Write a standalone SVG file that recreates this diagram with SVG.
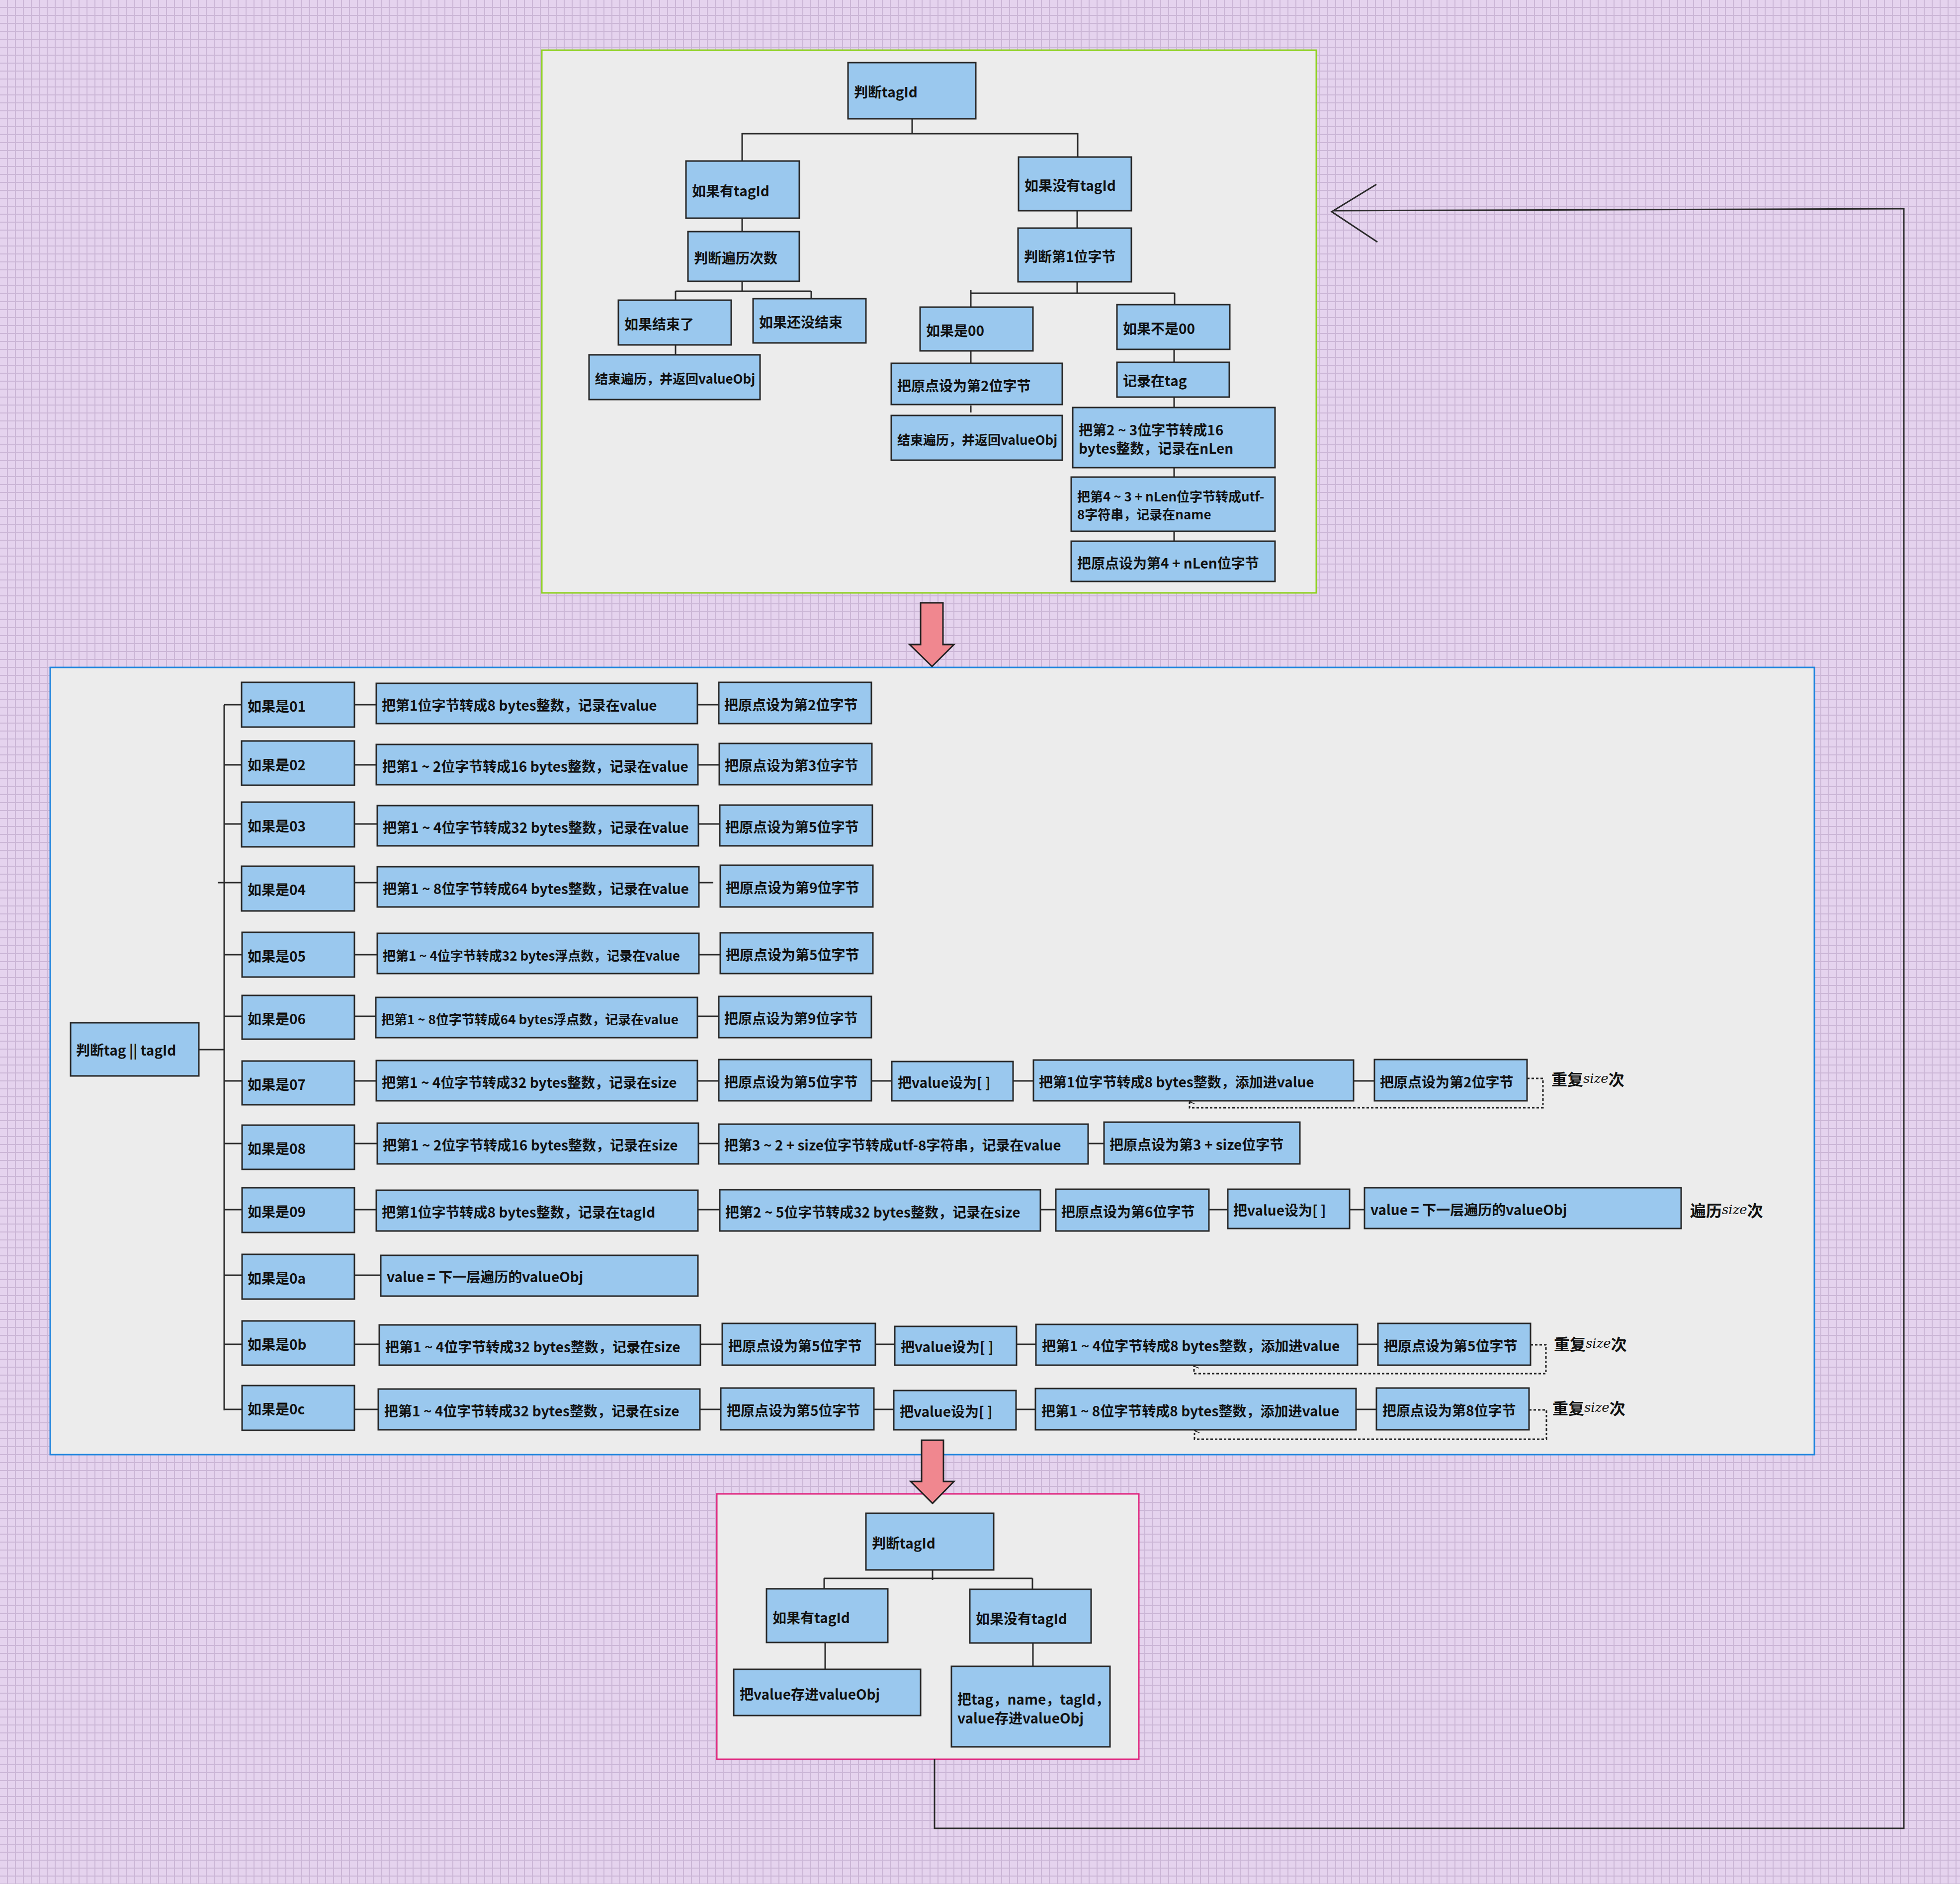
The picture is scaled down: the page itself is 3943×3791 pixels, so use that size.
<svg xmlns="http://www.w3.org/2000/svg" width="3943" height="3791" viewBox="0 0 3943 3791">
<defs>
<pattern id="grid" patternUnits="userSpaceOnUse" x="14" y="14" width="16" height="16">
<rect x="0" y="0" width="16" height="16" fill="#e5d3ee"/>
<rect x="0" y="0" width="2" height="16" fill="#cbb6d6"/>
<rect x="0" y="0" width="16" height="2" fill="#cbb6d6"/>
</pattern>
<marker id="up" viewBox="0 0 12 12" refX="6" refY="1" markerWidth="12" markerHeight="12" markerUnits="userSpaceOnUse" orient="auto-start-reverse">
<path d="M2 11 L6 1 L10 11" fill="none" stroke="#222" stroke-width="1.6"/>
</marker>
</defs>
<style>
.n{fill:#9ac8ee;stroke:#272727;stroke-width:3}
.t{font-family:"Noto Sans CJK SC","Liberation Sans",sans-serif;font-weight:bold;font-size:28px;fill:#111;dominant-baseline:central}
.s{font-size:26px}
.c{stroke:#2a2a2a;stroke-width:3;fill:none}
.d{stroke:#222;stroke-width:3;fill:none;stroke-dasharray:5 4}
.box{fill:#ececec;stroke-width:3}
.big{fill:#f0878f;stroke:#222;stroke-width:3}
.lab{font-family:"Noto Sans CJK SC","Liberation Sans",sans-serif;font-weight:bold;font-size:32px;fill:#111;dominant-baseline:central}
.sz{font-family:"DejaVu Serif",serif;font-style:italic;font-weight:normal;font-size:26px}
</style>
<rect width="3943" height="3791" fill="url(#grid)"/>

<g id="containers">
<rect class="box" x="1090" y="101" width="1558" height="1092" stroke="#8ed11f"/>
<rect class="box" x="101" y="1343" width="3549" height="1584" stroke="#2185de"/>
<rect class="box" x="1442" y="3006" width="849" height="534" stroke="#e0267f"/>
</g>

<g id="connectors">
<path class="c" d="M1835 239 V268 M1493 269 H2168 M1493 268 V324 M2168 268 V316 M1493 439 V466 M1493 566 V586 M1359 586 H1632 M1359 586 V604 M1632 586 V601 M1359 694 V714 M2167 424 V459 M2167 567 V590 M1953 590 H2363 M1953 584 V618 M2363 590 V613 M1953 706 V731 M1953 816 V830 M2362 703 V729 M2362 799 V820 M2362 941 V960 M2362 1069 V1089"/>
<path class="c" d="M400 2112 H451 M451 1419 V2838 M438 1776 H451
M451 1418 H486 M713 1418 H757 M1403 1418 H1446
M451 1539 H486 M713 1539 H757 M1404 1539 H1447
M451 1658 H486 M713 1658 H759 M1405 1658 H1448
M451 1776 H486 M713 1776 H759 M1406 1776 H1435
M451 1921 H486 M713 1921 H759 M1406 1921 H1449
M451 2045 H486 M713 2045 H756 M1403 2045 H1446
M451 2175 H486 M713 2175 H757 M1403 2175 H1446 M1753 2175 H1794 M2038 2175 H2079 M2723 2175 H2765
M451 2301 H486 M713 2301 H759 M1405 2301 H1446 M2189 2301 H2221
M451 2434 H486 M713 2434 H757 M1404 2434 H1448 M2093 2434 H2124 M2432 2434 H2470 M2715 2434 H2745
M451 2566 H486 M713 2566 H766
M451 2705 H486 M713 2705 H763 M1409 2705 H1453 M1761 2705 H1800 M2045 2705 H2084 M2731 2705 H2772
M451 2836 H486 M713 2836 H761 M1408 2836 H1450 M1758 2836 H1798 M2044 2836 H2083 M2728 2836 H2769"/>
<path class="d" d="M3072 2170 H3104 V2229 H2393 V2217" marker-end="url(#up)"/>
<path class="d" d="M3079 2706 H3110 V2764 H2402 V2749" marker-end="url(#up)"/>
<path class="d" d="M3076 2837 H3111 V2896 H2403 V2879" marker-end="url(#up)"/>
<path class="c" d="M1876 3159 V3179 M1658 3176 H2077 M1658 3176 V3197 M2077 3176 V3198 M1660 3305 V3359 M2078 3306 V3353"/>
<path class="c" d="M1880 3540 V3679 H3830 V420 L2681 424 M2769 371 L2679 426 L2771 487"/>
<polygon class="big" points="1852,1213 1897,1213 1897,1297 1919,1297 1875,1341 1830,1297 1852,1297"/>
<polygon class="big" points="1854,2898 1898,2898 1898,2981 1919,2981 1876,3025 1832,2981 1854,2981"/>
</g>

<g id="top-nodes">
<g id="t1"><rect class="n" x="1706" y="126" width="257" height="113"/><text class="t" x="1718" y="184">判断tagId</text></g>
<g id="t2"><rect class="n" x="1380" y="324" width="228" height="115"/><text class="t" x="1392" y="383">如果有tagId</text></g>
<g id="t3"><rect class="n" x="2049" y="316" width="227" height="108"/><text class="t" x="2061" y="372">如果没有tagId</text></g>
<g id="t4"><rect class="n" x="1384" y="466" width="224" height="100"/><text class="t" x="1396" y="518">判断遍历次数</text></g>
<g id="t5"><rect class="n" x="2048" y="459" width="228" height="108"/><text class="t" x="2060" y="515">判断第1位字节</text></g>
<g id="t6"><rect class="n" x="1244" y="604" width="227" height="90"/><text class="t" x="1256" y="651">如果结束了</text></g>
<g id="t7"><rect class="n" x="1515" y="601" width="227" height="89"/><text class="t" x="1527" y="647">如果还没结束</text></g>
<g id="t8"><rect class="n" x="1185" y="714" width="344" height="90"/><text class="t s" x="1197" y="760">结束遍历，并返回valueObj</text></g>
<g id="t9"><rect class="n" x="1851" y="618" width="227" height="88"/><text class="t" x="1863" y="664">如果是00</text></g>
<g id="t10"><rect class="n" x="2247" y="613" width="227" height="90"/><text class="t" x="2259" y="660">如果不是00</text></g>
<g id="t11"><rect class="n" x="1793" y="731" width="344" height="83"/><text class="t" x="1805" y="775">把原点设为第2位字节</text></g>
<g id="t12"><rect class="n" x="1793" y="836" width="344" height="90"/><text class="t s" x="1805" y="883">结束遍历，并返回valueObj</text></g>
<g id="t13"><rect class="n" x="2247" y="729" width="226" height="70"/><text class="t" x="2259" y="765">记录在tag</text></g>
<g id="t14"><rect class="n" x="2158" y="820" width="407" height="121"/><text class="t" x="2170" y="864">把第2 ~ 3位字节转成16</text><text class="t" x="2170" y="901">bytes整数，记录在nLen</text></g>
<g id="t15"><rect class="n" x="2155" y="960" width="410" height="109"/><text class="t s" x="2167" y="997">把第4 ~ 3 + nLen位字节转成utf-</text><text class="t s" x="2167" y="1033">8字符串，记录在name</text></g>
<g id="t16"><rect class="n" x="2155" y="1089" width="410" height="81"/><text class="t" x="2167" y="1132">把原点设为第4 + nLen位字节</text></g>
</g>

<g id="mid-nodes">
<g id="m0"><rect class="n" x="142" y="2058" width="258" height="107"/><text class="t" x="153" y="2112">判断tag || tagId</text></g>

<g id="r01">
<rect class="n" x="486" y="1373" width="227" height="90"/><text class="t" x="498" y="1420">如果是01</text>
<rect class="n" x="757" y="1375" width="646" height="81"/><text class="t" x="768" y="1418">把第1位字节转成8 bytes整数，记录在value</text>
<rect class="n" x="1446" y="1373" width="307" height="83"/><text class="t" x="1457" y="1417">把原点设为第2位字节</text>
</g>
<g id="r02">
<rect class="n" x="486" y="1491" width="227" height="89"/><text class="t" x="498" y="1538">如果是02</text>
<rect class="n" x="757" y="1498" width="647" height="81"/><text class="t" x="769" y="1541">把第1 ~ 2位字节转成16 bytes整数，记录在value</text>
<rect class="n" x="1447" y="1496" width="307" height="83"/><text class="t" x="1458" y="1539">把原点设为第3位字节</text>
</g>
<g id="r03">
<rect class="n" x="486" y="1614" width="227" height="90"/><text class="t" x="498" y="1661">如果是03</text>
<rect class="n" x="759" y="1621" width="646" height="81"/><text class="t" x="770" y="1664">把第1 ~ 4位字节转成32 bytes整数，记录在value</text>
<rect class="n" x="1448" y="1620" width="307" height="82"/><text class="t" x="1459" y="1663">把原点设为第5位字节</text>
</g>
<g id="r04">
<rect class="n" x="486" y="1743" width="227" height="90"/><text class="t" x="498" y="1789">如果是04</text>
<rect class="n" x="759" y="1744" width="647" height="81"/><text class="t" x="770" y="1787">把第1 ~ 8位字节转成64 bytes整数，记录在value</text>
<rect class="n" x="1449" y="1741" width="307" height="84"/><text class="t" x="1460" y="1785">把原点设为第9位字节</text>
</g>
<g id="r05">
<rect class="n" x="487" y="1876" width="226" height="90"/><text class="t" x="498" y="1923">如果是05</text>
<rect class="n" x="759" y="1878" width="647" height="81"/><text class="t s" x="770" y="1921">把第1 ~ 4位字节转成32 bytes浮点数，记录在value</text>
<rect class="n" x="1449" y="1877" width="307" height="82"/><text class="t" x="1460" y="1920">把原点设为第5位字节</text>
</g>
<g id="r06">
<rect class="n" x="487" y="2003" width="226" height="88"/><text class="t" x="498" y="2049">如果是06</text>
<rect class="n" x="756" y="2007" width="647" height="81"/><text class="t s" x="767" y="2049">把第1 ~ 8位字节转成64 bytes浮点数，记录在value</text>
<rect class="n" x="1446" y="2005" width="307" height="83"/><text class="t" x="1457" y="2048">把原点设为第9位字节</text>
</g>
<g id="r07">
<rect class="n" x="487" y="2135" width="226" height="88"/><text class="t" x="498" y="2181">如果是07</text>
<rect class="n" x="757" y="2134" width="646" height="81"/><text class="t" x="768" y="2177">把第1 ~ 4位字节转成32 bytes整数，记录在size</text>
<rect class="n" x="1446" y="2132" width="307" height="83"/><text class="t" x="1457" y="2176">把原点设为第5位字节</text>
<rect class="n" x="1794" y="2136" width="244" height="79"/><text class="t" x="1806" y="2177">把value设为[ ]</text>
<rect class="n" x="2079" y="2133" width="644" height="82"/><text class="t" x="2090" y="2176">把第1位字节转成8 bytes整数，添加进value</text>
<rect class="n" x="2765" y="2132" width="307" height="83"/><text class="t" x="2776" y="2176">把原点设为第2位字节</text>
</g>
<g id="r08">
<rect class="n" x="487" y="2264" width="226" height="89"/><text class="t" x="498" y="2310">如果是08</text>
<rect class="n" x="759" y="2260" width="646" height="82"/><text class="t" x="770" y="2303">把第1 ~ 2位字节转成16 bytes整数，记录在size</text>
<rect class="n" x="1446" y="2262" width="743" height="80"/><text class="t" x="1457" y="2303">把第3 ~ 2 + size位字节转成utf-8字符串，记录在value</text>
<rect class="n" x="2221" y="2258" width="394" height="84"/><text class="t" x="2232" y="2302">把原点设为第3 + size位字节</text>
</g>
<g id="r09">
<rect class="n" x="487" y="2390" width="226" height="90"/><text class="t" x="498" y="2437">如果是09</text>
<rect class="n" x="757" y="2395" width="647" height="82"/><text class="t" x="768" y="2438">把第1位字节转成8 bytes整数，记录在tagId</text>
<rect class="n" x="1448" y="2394" width="645" height="83"/><text class="t" x="1459" y="2438">把第2 ~ 5位字节转成32 bytes整数，记录在size</text>
<rect class="n" x="2124" y="2393" width="308" height="84"/><text class="t" x="2135" y="2437">把原点设为第6位字节</text>
<rect class="n" x="2470" y="2393" width="245" height="79"/><text class="t" x="2481" y="2434">把value设为[ ]</text>
<rect class="n" x="2745" y="2390" width="637" height="82"/><text class="t" x="2757" y="2433">value = 下一层遍历的valueObj</text>
</g>
<g id="r0a">
<rect class="n" x="487" y="2524" width="226" height="90"/><text class="t" x="498" y="2571">如果是0a</text>
<rect class="n" x="766" y="2526" width="638" height="82"/><text class="t" x="778" y="2568">value = 下一层遍历的valueObj</text>
</g>
<g id="r0b">
<rect class="n" x="487" y="2658" width="226" height="89"/><text class="t" x="498" y="2704">如果是0b</text>
<rect class="n" x="763" y="2666" width="646" height="81"/><text class="t" x="775" y="2709">把第1 ~ 4位字节转成32 bytes整数，记录在size</text>
<rect class="n" x="1453" y="2663" width="308" height="84"/><text class="t" x="1465" y="2707">把原点设为第5位字节</text>
<rect class="n" x="1800" y="2669" width="245" height="78"/><text class="t" x="1812" y="2709">把value设为[ ]</text>
<rect class="n" x="2084" y="2665" width="647" height="82"/><text class="t" x="2096" y="2707">把第1 ~ 4位字节转成8 bytes整数，添加进value</text>
<rect class="n" x="2772" y="2663" width="307" height="84"/><text class="t" x="2784" y="2707">把原点设为第5位字节</text>
</g>
<g id="r0c">
<rect class="n" x="487" y="2788" width="226" height="90"/><text class="t" x="498" y="2834">如果是0c</text>
<rect class="n" x="761" y="2795" width="647" height="82"/><text class="t" x="773" y="2838">把第1 ~ 4位字节转成32 bytes整数，记录在size</text>
<rect class="n" x="1450" y="2793" width="308" height="84"/><text class="t" x="1462" y="2837">把原点设为第5位字节</text>
<rect class="n" x="1798" y="2798" width="246" height="79"/><text class="t" x="1810" y="2839">把value设为[ ]</text>
<rect class="n" x="2083" y="2794" width="645" height="83"/><text class="t" x="2095" y="2838">把第1 ~ 8位字节转成8 bytes整数，添加进value</text>
<rect class="n" x="2769" y="2793" width="307" height="84"/><text class="t" x="2781" y="2837">把原点设为第8位字节</text>
</g>
<g id="labels">
<text class="lab" x="3121" y="2170">重复<tspan class="sz">size</tspan>次</text>
<text class="lab" x="3400" y="2434">遍历<tspan class="sz">size</tspan>次</text>
<text class="lab" x="3126" y="2703">重复<tspan class="sz">size</tspan>次</text>
<text class="lab" x="3123" y="2832">重复<tspan class="sz">size</tspan>次</text>
</g>
</g>

<g id="bottom-nodes">
<g id="b1"><rect class="n" x="1742" y="3045" width="257" height="114"/><text class="t" x="1754" y="3104">判断tagId</text></g>
<g id="b2"><rect class="n" x="1542" y="3197" width="244" height="108"/><text class="t" x="1554" y="3254">如果有tagId</text></g>
<g id="b3"><rect class="n" x="1951" y="3198" width="244" height="108"/><text class="t" x="1963" y="3256">如果没有tagId</text></g>
<g id="b4"><rect class="n" x="1476" y="3359" width="376" height="93"/><text class="t" x="1488" y="3408">把value存进valueObj</text></g>
<g id="b5"><rect class="n" x="1914" y="3353" width="319" height="162"/><text class="t" x="1926" y="3418">把tag，name，tagId，</text><text class="t" x="1926" y="3456">value存进valueObj</text></g>
</g>
</svg>
